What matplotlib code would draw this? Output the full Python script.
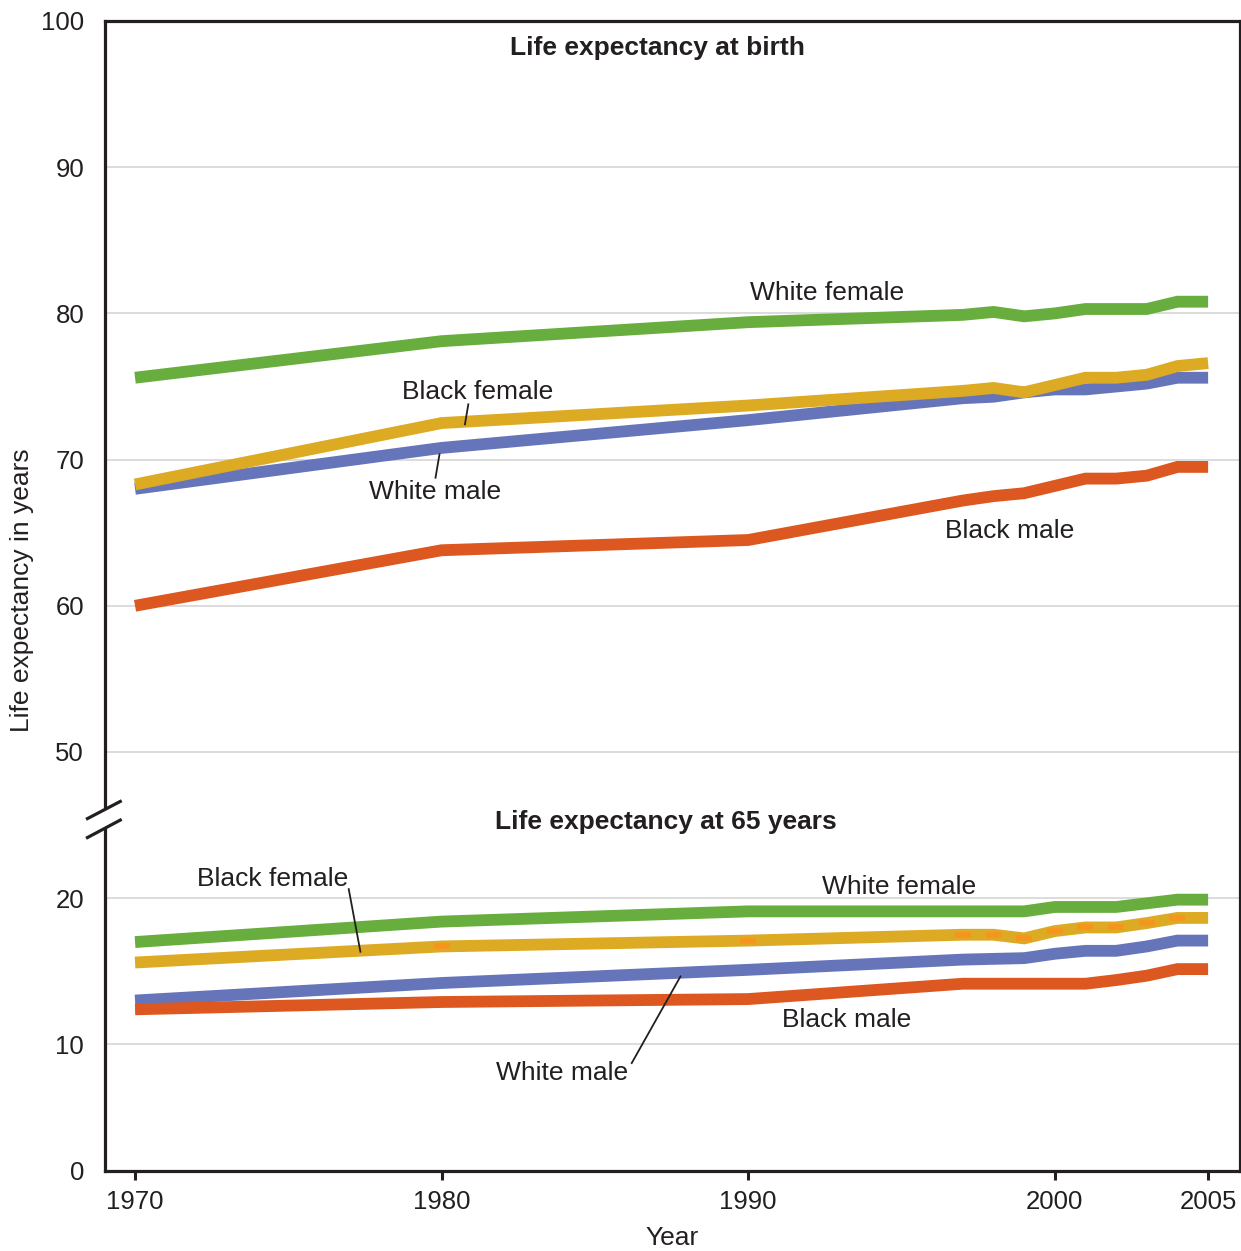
import matplotlib
matplotlib.use("Agg")
import matplotlib.pyplot as plt
from matplotlib.patches import Polygon

plt.rcParams['font.family'] = ['Liberation Sans', 'DejaVu Sans']

# ---------------- data ----------------
years = [1970, 1980, 1990, 1997, 1998, 1999, 2000, 2001, 2002, 2003, 2004, 2005]

# Life expectancy at birth
birth_white_female = [75.6, 78.1, 79.4, 79.9, 80.1, 79.8, 80.0, 80.3, 80.3, 80.3, 80.8, 80.8]
birth_black_female = [68.3, 72.5, 73.7, 74.7, 74.9, 74.6, 75.1, 75.6, 75.6, 75.8, 76.4, 76.6]
birth_white_male = [68.0, 70.8, 72.7, 74.2, 74.3, 74.6, 74.8, 74.8, 75.0, 75.2, 75.6, 75.6]
birth_black_male = [60.0, 63.8, 64.5, 67.2, 67.5, 67.7, 68.2, 68.7, 68.7, 68.9, 69.5, 69.5]

# Life expectancy at 65 years
age65_white_female = [17.0, 18.4, 19.1, 19.1, 19.1, 19.1, 19.4, 19.4, 19.4, 19.65, 19.9, 19.9]
age65_black_female = [15.6, 16.7, 17.1, 17.5, 17.5, 17.25, 17.75, 18.0, 18.0, 18.3, 18.65, 18.65]
age65_white_male = [13.0, 14.2, 15.1, 15.8, 15.85, 15.9, 16.2, 16.4, 16.4, 16.7, 17.1, 17.1]
age65_black_male = [12.4, 12.9, 13.1, 14.15, 14.15, 14.15, 14.15, 14.15, 14.4, 14.7, 15.15, 15.15]

x_ticks = [1970, 1980, 1990, 2000, 2005]
lower_ticks = [0, 10, 20]
upper_ticks = [50, 60, 70, 80, 90, 100]

# ---------------- style ----------------
BREAK_OFFSET = 20          # upper panel values are drawn shifted down by this
Y_MIN, Y_MAX = 1.34, 80.0
X_MIN, X_MAX = 1969.02, 2006.04

C_GREEN = '#67AE3E'
C_YELLOW = '#DDAA24'
C_BLUE = '#6675B9'
C_RED = '#DC5820'
C_MARK = '#F7941D'
C_TEXT = '#231F20'
C_GRID = '#D9D9D9'
LW = 8.5
FS_TICK = 18.5
FS_LAB = 19

fig = plt.figure(figsize=(12.41, 12.51), dpi=100)
ax = fig.add_axes([105 / 1241, 80 / 1251, 1135 / 1241, 1150 / 1251])
ax.set_xlim(X_MIN, X_MAX)
ax.set_ylim(Y_MIN, Y_MAX)


def up(vals):
    return [v - BREAK_OFFSET for v in vals]


line_kw = dict(lw=LW, solid_capstyle='butt', solid_joinstyle='miter', zorder=3)

# upper panel: at birth
ax.plot(years, up(birth_white_male), color=C_BLUE, **line_kw)
ax.plot(years, up(birth_black_male), color=C_RED, **line_kw)
ax.plot(years, up(birth_black_female), color=C_YELLOW, **line_kw)
ax.plot(years, up(birth_white_female), color=C_GREEN, **line_kw)

# lower panel: at 65 years
ax.plot(years, age65_white_male, color=C_BLUE, **line_kw)
ax.plot(years, age65_black_male, color=C_RED, **line_kw)
ax.plot(years, age65_black_female, color=C_YELLOW, marker='_', ms=11, mew=4,
        mec=C_MARK, markevery=slice(1, len(years) - 1), **line_kw)
ax.plot(years, age65_white_female, color=C_GREEN, **line_kw)

# ---------------- axes ----------------
ytick_pos = [max(v, Y_MIN) for v in lower_ticks] + [v - BREAK_OFFSET for v in upper_ticks]
ytick_lab = [str(v) for v in lower_ticks + upper_ticks]
ax.set_yticks(ytick_pos)
ax.set_yticklabels(ytick_lab)
ax.set_xticks(x_ticks)
ax.set_xticklabels([str(v) for v in x_ticks])

ax.tick_params(axis='y', length=0, pad=15, labelsize=FS_TICK, labelcolor=C_TEXT)
ax.tick_params(axis='x', length=6.5, width=2.2, color=C_TEXT, pad=7,
               labelsize=FS_TICK, labelcolor=C_TEXT, direction='out')

ax.grid(axis='y', color=C_GRID, lw=1.3, zorder=0)
ax.set_axisbelow(True)
for s in ax.spines.values():
    s.set_linewidth(2.3)
    s.set_color(C_TEXT)

# axis break marks on the left spine
brk1 = ([-0.0167, 0.0147], [0.3058, 0.3220])
brk2 = ([-0.0167, 0.0147], [0.2893, 0.3058])
gap = Polygon([(brk1[0][0], brk1[1][0]), (brk1[0][1], brk1[1][1]),
               (brk2[0][1], brk2[1][1]), (brk2[0][0], brk2[1][0])],
              closed=True, transform=ax.transAxes, facecolor='white',
              edgecolor='none', clip_on=False, zorder=5)
ax.add_patch(gap)
for bx, by in (brk1, brk2):
    ax.plot(bx, by, transform=ax.transAxes, color=C_TEXT, lw=2.3,
            clip_on=False, zorder=6, solid_capstyle='butt')

# ---------------- labels ----------------
fig.text(22 / 1241, 1 - 590 / 1251, 'Life expectancy in years', rotation=90,
         ha='center', va='center', fontsize=FS_LAB, color=C_TEXT)
fig.text(672 / 1241, 1 - 1238 / 1251, 'Year', ha='center', va='center',
         fontsize=FS_LAB, color=C_TEXT)

txt = dict(ha='center', va='center', fontsize=FS_LAB, color=C_TEXT, zorder=7)
ax.text(1987.03, 98.15 - BREAK_OFFSET, 'Life expectancy at birth', fontweight='bold', **txt)
ax.text(1992.58, 81.4 - BREAK_OFFSET, 'White female', **txt)
ax.text(1981.18, 74.62 - BREAK_OFFSET, 'Black female', **txt)
ax.text(1979.80, 67.8 - BREAK_OFFSET, 'White male', **txt)
ax.text(1998.53, 65.12 - BREAK_OFFSET, 'Black male', **txt)

ax.text(1987.32, 25.18, 'Life expectancy at 65 years', fontweight='bold', **txt)
ax.text(1974.48, 21.3, 'Black female', **txt)
ax.text(1994.93, 20.76, 'White female', **txt)
ax.text(1993.20, 11.66, 'Black male', **txt)
ax.text(1983.92, 8.03, 'White male', **txt)

# leader lines
lead = dict(color=C_TEXT, lw=1.3, zorder=7)
ax.plot([1980.87, 1980.76], [73.78 - BREAK_OFFSET, 72.41 - BREAK_OFFSET], **lead)
ax.plot([1979.93, 1979.80], [70.36 - BREAK_OFFSET, 68.76 - BREAK_OFFSET], **lead)
ax.plot([1976.97, 1977.35], [20.62, 16.34], **lead)
ax.plot([1987.79, 1986.20], [14.65, 8.72], **lead)

fig.savefig('out.png', dpi=100)
